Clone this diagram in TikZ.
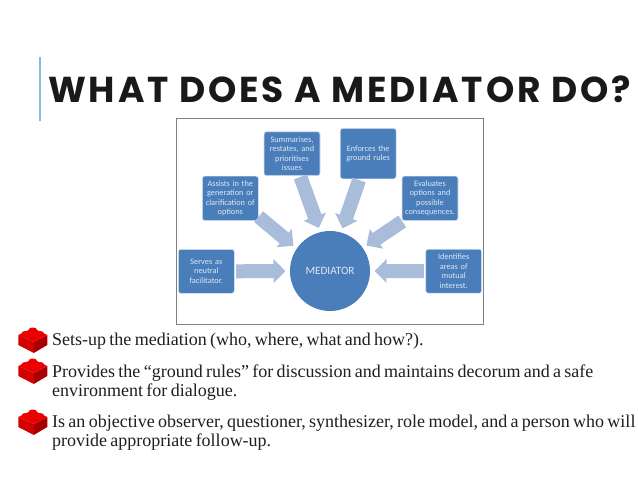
\documentclass[tikz,border=0pt]{standalone}
\usepackage{fontspec}
\setmainfont{Liberation Serif}
\newfontfamily\titlefont[LetterSpace=8,Scale=1]{Poppins}
\newfontfamily\boxfont{Carlito}
\usetikzlibrary{arrows.meta}
\definecolor{boxblue}{HTML}{4A7EBB}
\definecolor{arrowblue}{HTML}{A9BCD9}
\definecolor{accent}{HTML}{7FBFD6}
\definecolor{boxtext}{HTML}{DDE7F3}
\definecolor{brickred}{HTML}{EE0000}
\definecolor{brickdark}{HTML}{A80000}
\definecolor{brickmid}{HTML}{D40000}
\tikzset{
 x=1pt,y=-1pt,
 stepbox/.style={draw=white!80!boxblue,line width=.6pt,fill=boxblue,rounded corners=2.5pt,minimum width=56pt,text width=54pt,inner sep=1pt,align=center,text=boxtext,font=\boxfont\fontsize{8.3}{9.5}\selectfont},
 hub/.style={circle,fill=boxblue,minimum size=80pt,inner sep=0pt,outer sep=0pt,text=boxtext,font=\boxfont\fontsize{11.2}{12}\selectfont},
 flow/.style={draw=arrowblue,line width=14pt,shorten >=4.5pt,-{Triangle[length=12pt,width=23pt,fill=arrowblue]}},
 body/.style={anchor=base west,inner sep=0pt,align=left,text=black!88,font=\fontsize{18}{19}\selectfont,execute at begin node={\spaceskip=3.3pt\relax}},
 brick/.pic={
  \fill[brickmid] (0,7) -- (15.5,14) -- (15.5,25) -- (0,17) -- cycle;
  \fill[brickdark] (15.5,14) -- (29,7) -- (29,17) -- (15.5,25) -- cycle;
  \fill[brickred] (0,7) -- (14.5,0) -- (29,7) -- (15.5,14) -- cycle;
  \foreach \sx/\sy in {14.5/2.5,7.5/6,21.5/6,14.5/9.5}{
   \fill[brickmid] (\sx-4,\sy-1) rectangle (\sx+4,\sy+1);
   \fill[brickred] (\sx,\sy-1) ellipse[x radius=4,y radius=2];
  }
 }
}
\begin{document}
\begin{tikzpicture}
\useasboundingbox (0,0) rectangle (638,479);
\fill[white] (0,0) rectangle (638,479);
\coordinate (accenttop) at (40,57);
\coordinate (accentbot) at (40,121);
\draw[accent,line width=1.6pt] (accenttop) -- (accentbot);
\node[anchor=base west,inner sep=0pt,font=\titlefont\bfseries\fontsize{36}{40}\selectfont,text=black!90] (title) at (48,102) {WHAT DOES A MEDIATOR DO?};
\node[draw=black!50,line width=1pt,minimum width=307.5pt,minimum height=206.5pt,inner sep=0pt,anchor=north west] (frame) at (175.7,117.5) {};
\node[hub] (med) at (330,271) {MEDIATOR};
\node[stepbox,minimum height=44pt] (serves) at (206.3,271.3) {Serves as\\neutral\\facilitator.};
\node[stepbox,minimum height=44.5pt] (assists) at (230.3,198.3) {Assists in the\\generation or\\clarification of\\options};
\node[stepbox,minimum height=44pt] (summ) at (292,153.7) {Summarises,\\restates, and\\prioritises\\issues};
\node[stepbox,minimum height=50.5pt] (enf) at (368.2,153.6) {Enforces the\\ground rules};
\node[stepbox,minimum height=44.5pt] (eval) at (430,198.3) {Evaluates\\options and\\possible\\consequences.};
\node[stepbox,minimum height=44pt] (ident) at (453.7,271.2) {Identifies\\areas of\\mutual\\interest.};
\draw[flow,shorten <=1.5pt] (serves.east) -- (med.180);
\draw[flow] (assists.-33) -- (med.146);
\draw[flow,shorten <=1pt] (summ.-70) -- (med.104);
\draw[flow,shorten <=1pt] (enf.-109) -- (med.74);
\draw[flow,shorten <=1pt] (eval.220) -- (med.35);
\draw[flow,shorten <=1.5pt] (ident.west) -- (med.0);
\pic at (18.3,328) {brick};
\pic at (18.3,359) {brick};
\pic at (18.3,410) {brick};
\node[body] (b1) at (52,345) {Sets-up the mediation (who, where, what and how?).};
\node[body] (b2) at (52,396) {Provides the “ground rules” for discussion and maintains decorum and a safe\\environment for dialogue.};
\node[body] (b3) at (52,446) {Is an objective observer, questioner, synthesizer, role model, and a person who will\\provide appropriate follow-up.};
\end{tikzpicture}
\end{document}
